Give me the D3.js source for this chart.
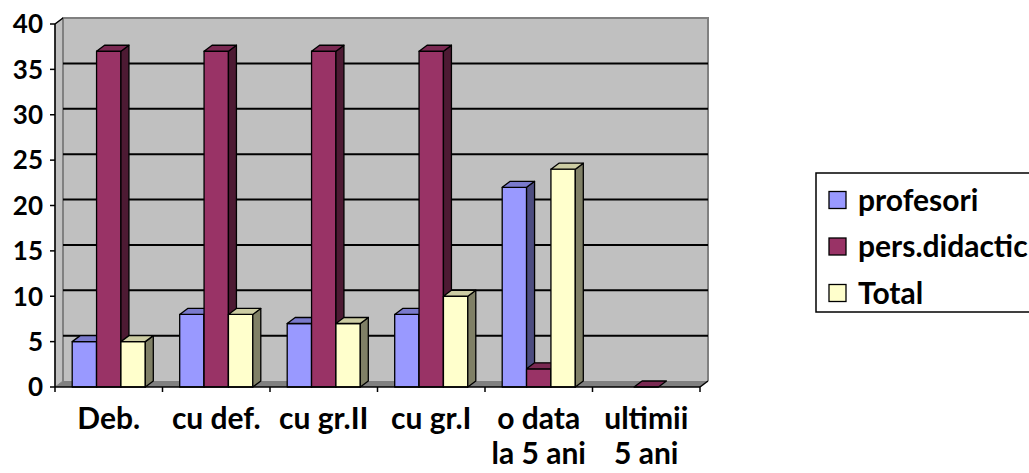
<!DOCTYPE html>
<html>
<head>
<meta charset="utf-8">
<script src="https://cdn.jsdelivr.net/npm/d3@7/dist/d3.min.js"></script>
<style>
  body { margin: 0; background: #fff; }
  svg { display: block; }
  text { font-family: Lato, "Open Sans", sans-serif; font-weight: bold; fill: #000; }
</style>
</head>
<body>
<svg id="chart" width="1029" height="473"></svg>
<script>
// date din grafic
const categories = [['Deb.'], ['cu def.'], ['cu gr.II'], ['cu gr.I'], ['o data', 'la 5 ani'], ['ultimii', '5 ani']];
const seriesNames = ['profesori', 'pers.didactic', 'Total'];
const profesori = [5, 8, 7, 8, 22, null];
const persDidactic = [37, 37, 37, 37, 2, 0];
const total = [5, 8, 7, 10, 24, null];
const yTicks = [0, 5, 10, 15, 20, 25, 30, 35, 40];

const seriesValues = [profesori, persDidactic, total];
// culori: fata, lateral, sus
const colors = [
    { front: '#9999FF', side: '#4D4D80', top: '#7A7ACC' },
    { front: '#993366', side: '#4D1A33', top: '#7A2952' },
    { front: '#FFFFCC', side: '#808066', top: '#CCCCA3' }
];

const svg = d3.select('#chart');
const pL = 55, pR = 700, pB = 387, pT = 24;
const wdx = 8, wdy = -6; // adancime perete
const bdx = 8, bdy = -6; // adancime bara

const x = d3.scaleBand().domain(d3.range(categories.length)).range([pL, pR]).paddingInner(0.32).paddingOuter(0.16);
const xs = d3.scaleBand().domain(d3.range(seriesNames.length)).range([0, x.bandwidth()]);
const y = d3.scaleLinear().domain([0, 40]).range([pB, pT]);

// perete din spate
svg.append('rect')
    .attr('x', pL + wdx).attr('y', y(40) + wdy)
    .attr('width', pR - pL).attr('height', y(0) - y(40))
    .attr('fill', '#C0C0C0');
// perete stang
svg.append('polygon')
    .attr('points', [[pL, y(0)], [pL, y(40)], [pL + wdx, y(40) + wdy], [pL + wdx, y(0) + wdy]].join(' '))
    .attr('fill', '#C0C0C0').attr('stroke', '#808080').attr('stroke-width', 1);
// podea
svg.append('polygon')
    .attr('points', [[pL, y(0)], [pR, y(0)], [pR + wdx, y(0) + wdy], [pL + wdx, y(0) + wdy]].join(' '))
    .attr('fill', '#808080');
// margini perete
svg.append('path')
    .attr('d', `M${pL + wdx},${y(0) + wdy}V${y(40) + wdy}H${pR + wdx}V${y(0) + wdy}`)
    .attr('fill', 'none').attr('stroke', '#808080').attr('stroke-width', 2);

// linii de grila
svg.append('g').selectAll('line')
    .data(yTicks.filter(d => d > 0 && d < 40))
    .join('line')
    .attr('x1', pL + wdx).attr('x2', pR + wdx)
    .attr('y1', d => y(d) + wdy).attr('y2', d => y(d) + wdy)
    .attr('stroke', '#000').attr('stroke-width', 2);

// bare 3D
const bars = [];
categories.forEach((c, i) => {
    seriesValues.forEach((vals, s) => {
        if (vals[i] !== null) bars.push({ i, s, v: vals[i] });
    });
});
const barG = svg.append('g');
bars.forEach(d => {
    const x0 = x(d.i) + xs(d.s), w = xs.bandwidth();
    const y0 = y(d.v), y1 = y(0);
    const c = colors[d.s];
    const g = barG.append('g').attr('stroke', '#000').attr('stroke-width', 1.3).attr('stroke-linejoin', 'round');
    if (d.v > 0) {
        g.append('rect').attr('x', x0).attr('y', y0).attr('width', w).attr('height', y1 - y0).attr('fill', c.front);
        g.append('polygon')
            .attr('points', [[x0 + w, y0], [x0 + w + bdx, y0 + bdy], [x0 + w + bdx, y1 + bdy], [x0 + w, y1]].join(' '))
            .attr('fill', c.side);
    }
    g.append('polygon')
        .attr('points', [[x0, y0], [x0 + bdx, y0 + bdy], [x0 + w + bdx, y0 + bdy], [x0 + w, y0]].join(' '))
        .attr('fill', c.top);
});

// axa y
const axisG = svg.append('g').attr('stroke', '#000').attr('stroke-width', 1.5);
axisG.append('line').attr('x1', pL).attr('x2', pL).attr('y1', y(40)).attr('y2', y(0));
axisG.append('line').attr('x1', pL).attr('x2', pL + wdx).attr('y1', y(40)).attr('y2', y(40) + wdy);
axisG.selectAll('.yt').data(yTicks).join('line').attr('class', 'yt')
    .attr('x1', pL - 5).attr('x2', pL).attr('y1', d => y(d)).attr('y2', d => y(d));
svg.append('g').selectAll('text').data(yTicks).join('text')
    .attr('x', 43).attr('y', d => y(d)).attr('dy', '0.36em')
    .attr('text-anchor', 'end').attr('font-size', 26)
    .text(d => d);

// axa x
axisG.append('line').attr('x1', pL).attr('x2', pR).attr('y1', y(0)).attr('y2', y(0));
axisG.append('line').attr('x1', pR).attr('x2', pR + wdx).attr('y1', y(0)).attr('y2', y(0) + wdy);
const bounds = d3.range(categories.length + 1).map(i => pL + i * x.step());
axisG.selectAll('.xt').data(bounds).join('line').attr('class', 'xt')
    .attr('x1', d => d).attr('x2', d => d).attr('y1', y(0)).attr('y2', y(0) + 5);
const xl = svg.append('g').selectAll('text').data(categories).join('text')
    .attr('text-anchor', 'middle').attr('font-size', 30)
    .attr('transform', (d, i) => `translate(${x(i) + x.bandwidth() / 2},429)`);
xl.selectAll('tspan').data(d => d).join('tspan')
    .attr('x', 0).attr('y', (d, k) => k * 35)
    .text(d => d);

// legenda
const leg = svg.append('g').attr('transform', 'translate(816,173)');
leg.append('rect').attr('width', 260).attr('height', 139)
    .attr('fill', '#fff').attr('stroke', '#000').attr('stroke-width', 1.5);
seriesNames.forEach((n, s) => {
    const row = leg.append('g').attr('transform', `translate(13,${27 + s * 46.5})`);
    row.append('rect').attr('x', 0).attr('y', -8.5).attr('width', 17).attr('height', 17)
        .attr('fill', colors[s].front).attr('stroke', '#000').attr('stroke-width', 1.3);
    row.append('text').attr('x', 29).attr('dy', '0.36em').attr('font-size', 30).text(n);
});
</script>
</body>
</html>
